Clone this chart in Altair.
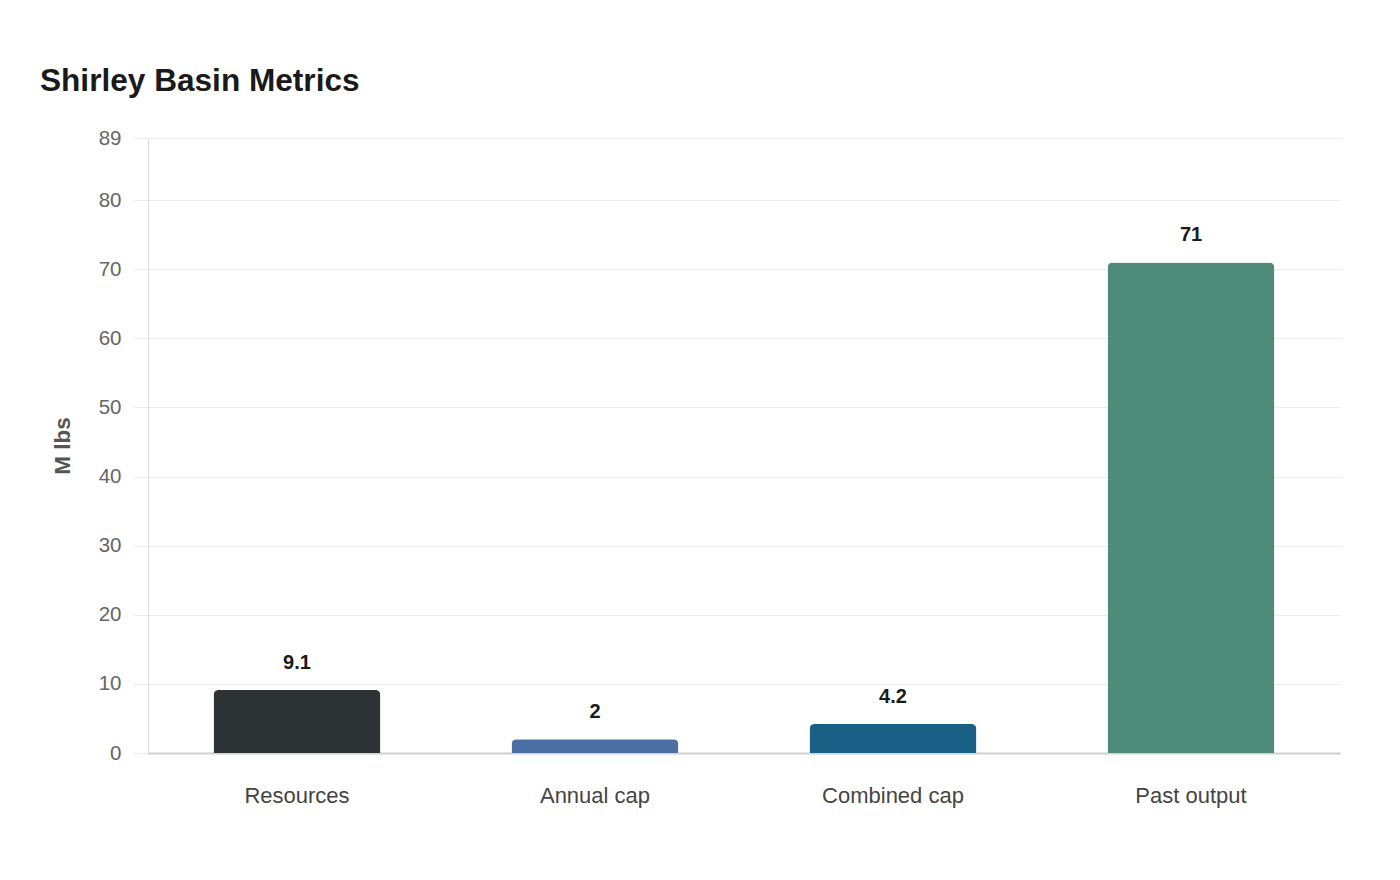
import altair as alt
import pandas as pd

categories = ["Resources", "Annual cap", "Combined cap", "Past output"]
values = [9.1, 2, 4.2, 71]
labels = ["9.1", "2", "4.2", "71"]
colors = ["#2e3436", "#4b6ea3", "#1a5f86", "#4e8b79"]
y_ticks = [0, 10, 20, 30, 40, 50, 60, 70, 80, 89]

df = pd.DataFrame({"cat": categories, "val": values, "lab": labels, "col": colors})

FONT = "Liberation Sans"

x = alt.X("cat:N", sort=categories, title=None,
          scale=alt.Scale(paddingInner=0.44, paddingOuter=0.22),
          axis=alt.Axis(labelAngle=0, labelFontSize=22, labelColor="#444444", labelFont=FONT,
                        labelPadding=32, ticks=False, domainColor="#d0d0d0", domainWidth=2,
                        grid=False))
y = alt.Y("val:Q", title="M lbs",
          scale=alt.Scale(domain=[0, 89], nice=False, zero=True),
          axis=alt.Axis(values=y_ticks, labelFontSize=20.5, labelColor="#666666", labelFont=FONT,
                        labelPadding=12, tickSize=15, tickColor="#ebebeb", gridColor="#ebebeb",
                        domainColor="#dddddd", titleFontSize=22.5, titleFont=FONT,
                        titleFontWeight="bold", titleColor="#555555", titlePadding=24))

bars = alt.Chart(df).mark_bar(cornerRadiusTopLeft=5, cornerRadiusTopRight=5).encode(
    x=x, y=y, color=alt.Color("col:N", scale=None)
)
text = alt.Chart(df).mark_text(fontSize=20, fontWeight="bold", font=FONT, color="#1a1a1a",
                               dy=-21, baseline="alphabetic").encode(
    x=alt.X("cat:N", sort=categories), y="val:Q", text="lab:N"
)

chart = (bars + text).properties(
    width=1192, height=615,
    background="white",
    padding={"left": 140, "top": 130, "right": 52, "bottom": 100},
    autosize=alt.AutoSizeParams(type="none"),
    title=alt.TitleParams("Shirley Basin Metrics", anchor="start", frame="group", dx=-108,
                          fontSize=31.6, font=FONT, fontWeight="bold", color="#1a1a1a", offset=30),
).configure_view(strokeWidth=0, stroke="transparent")

chart.save("out.html", embed_options={"renderer": "svg", "actions": False})
